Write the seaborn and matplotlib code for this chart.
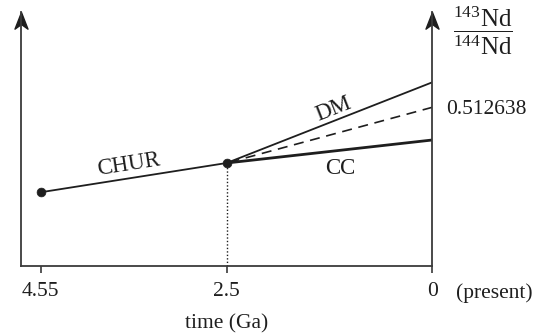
import numpy as np
import matplotlib
matplotlib.use("Agg")
import matplotlib.pyplot as plt
from matplotlib.path import Path
import seaborn as sns

# Nd isotope evolution (schematic), ages in Ga, values are 143Nd/144Nd
chur_age = [4.55, 2.5]
chur_nd = [0.50660, 0.508681]
branch_age = [2.5, 0.0]
dm_nd = [0.508681, 0.514414]
chur_ext_nd = [0.508681, 0.512638]
cc_nd = [0.508681, 0.510315]
present_label = "0.512638"
tick_ages = [4.55, 2.5, 0.0]
tick_labels = ["4.55", "2.5", "0"]

sns.set_theme(style="white")
plt.rcParams["font.family"] = ["Liberation Serif", "DejaVu Serif"]
plt.rcParams["mathtext.fontset"] = "custom"
plt.rcParams["mathtext.rm"] = "Liberation Serif"
plt.rcParams["mathtext.it"] = "Liberation Serif:italic"
plt.rcParams["mathtext.bf"] = "Liberation Serif:bold"

ink = "#1e1e1e"
axis_ink = "#3a3a3a"

W, H = 534, 334
fig = plt.figure(figsize=(W / 100, H / 100), dpi=100)
ax = fig.add_axes([20.7 / W, 68.3 / H, (432.3 - 20.7) / W, (334 - 11.7 - 68.3) / H])

# schematic time axis: the older interval is drawn slightly stretched
K = 1.1044


def fwd(t):
    t = np.asarray(t, float)
    return np.where(t <= 2.5, t, 2.5 + (t - 2.5) * K)


def inv(p):
    p = np.asarray(p, float)
    return np.where(p <= 2.5, p, 2.5 + (p - 2.5) / K)


ax.set_xscale("function", functions=(fwd, inv))
ax.set_xlim(4.768, 0)
ax.set_ylim(0.501385, 0.519429)

# evolution lines
sns.lineplot(x=chur_age, y=chur_nd, ax=ax, color=ink, lw=1.3, estimator=None)
sns.lineplot(x=branch_age, y=dm_nd, ax=ax, color=ink, lw=1.3, estimator=None)
sns.lineplot(x=branch_age, y=chur_ext_nd, ax=ax, color=ink, lw=1.2,
             linestyle=(0, (6, 4)), estimator=None)
sns.lineplot(x=branch_age, y=cc_nd, ax=ax, color=ink, lw=2.0, estimator=None)
ax.vlines(branch_age[0], ax.get_ylim()[0], chur_nd[1], color=ink, lw=1.0,
          linestyles=(0, (1, 1.5)))
sns.scatterplot(x=chur_age, y=chur_nd, ax=ax, color=ink, s=40,
                edgecolor=ink, zorder=5)

# axes frame
for side in ["left", "right", "bottom"]:
    ax.spines[side].set_visible(True)
    ax.spines[side].set_color(axis_ink)
    ax.spines[side].set_linewidth(1.3)
ax.spines["top"].set_visible(False)

head = Path([(0, 0), (-0.39, -1), (0, -0.72), (0.39, -1), (0, 0)],
            [Path.MOVETO, Path.LINETO, Path.LINETO, Path.LINETO, Path.CLOSEPOLY])
ax.plot([0, 1], [1, 1], transform=ax.transAxes, ls="none", marker=head,
        ms=24, color=ink, mec=ink, clip_on=False)

ax.set_xticks(tick_ages)
ax.set_xticklabels(tick_labels)
ax.tick_params(axis="x", direction="out", length=5, width=1.2, color=axis_ink,
               pad=7, labelsize=15.5, labelcolor=ink, bottom=True)
ax.yaxis.tick_right()
ax.set_yticks([chur_ext_nd[1]])
ax.set_yticklabels([present_label])
ax.tick_params(axis="y", length=0, pad=10, labelsize=15.5, labelcolor=ink)
ax.set_xlabel("time (Ga)", fontsize=15.5, color=ink, labelpad=9)
ax.set_ylabel("")

ax.annotate("(present)", xy=(1, 0), xycoords="axes fraction",
            xytext=(17, -20), textcoords="offset points",
            ha="left", va="center", fontsize=15.5, color=ink)

ax.annotate(r"$\dfrac{^{143}\mathrm{Nd}}{^{144}\mathrm{Nd}}$", xy=(1, 1),
            xycoords="axes fraction", xytext=(36.5, -13.5),
            textcoords="offset points", ha="center", va="center",
            fontsize=18, color=ink)


def seg_angle(x0, y0, x1, y1):
    a = ax.transData.transform((x0, y0))
    b = ax.transData.transform((x1, y1))
    return np.degrees(np.arctan2(b[1] - a[1], b[0] - a[0]))


def seg_mid(x0, y0, x1, y1):
    a = ax.transData.transform((x0, y0))
    b = ax.transData.transform((x1, y1))
    return ax.transData.inverted().transform((a + b) / 2)


chur_ang = seg_angle(chur_age[0], chur_nd[0], chur_age[1], chur_nd[1])
dm_ang = seg_angle(branch_age[0], dm_nd[0], branch_age[1], dm_nd[1])

ax.annotate("CHUR", xy=seg_mid(chur_age[0], chur_nd[0], chur_age[1], chur_nd[1]),
            xytext=(-3.7, 9.6), textcoords="offset points", ha="center",
            va="center", rotation=chur_ang, rotation_mode="anchor",
            fontsize=16.5, color=ink)
ax.annotate("DM", xy=seg_mid(branch_age[0], dm_nd[0], branch_age[1], dm_nd[1]),
            xytext=(2.5, 9.6), textcoords="offset points", ha="center",
            va="center", rotation=dm_ang, rotation_mode="anchor",
            fontsize=16.5, color=ink)
ax.annotate("CC", xy=seg_mid(branch_age[0], cc_nd[0], branch_age[1], cc_nd[1]),
            xytext=(7.6, -12.1), textcoords="offset points", ha="center",
            va="center", fontsize=16.5, color=ink)

fig.savefig("out.png", dpi=100)
